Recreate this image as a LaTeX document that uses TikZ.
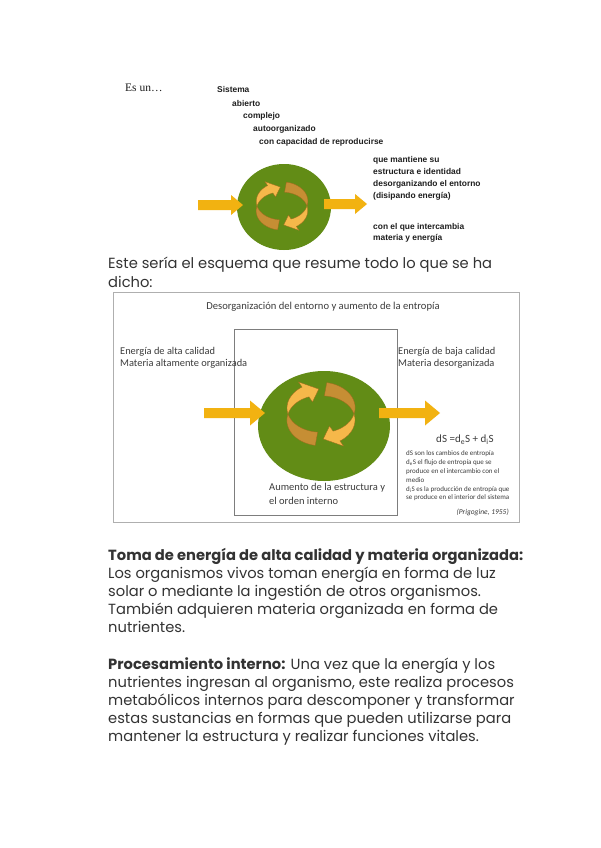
\documentclass[tikz,border=0pt]{standalone}
\usepackage{fontspec}
\setmainfont{Poppins}
\newfontfamily\slidefont{Liberation Sans}
\newfontfamily\slideserif{Liberation Serif}
\newfontfamily\calfont{Carlito}
\usetikzlibrary{shapes.geometric}
\definecolor{TextClr}{HTML}{333333}
\definecolor{SlideClr}{HTML}{1E1E1E}
\definecolor{CalClr}{HTML}{3C3C3C}
\definecolor{CellClr}{RGB}{98,140,22}
\definecolor{ArrowClr}{RGB}{242,178,17}
\definecolor{CycleLight}{RGB}{246,184,74}
\definecolor{CycleDark}{RGB}{198,142,52}
\definecolor{CycleEdge}{RGB}{160,105,30}
\definecolor{FrameClr}{RGB}{175,175,175}
\definecolor{BoxClr}{RGB}{125,125,125}

% x1, x2, y, shaft half width, head half width, head length
\newcommand{\BlockArrow}[6]{%
  \fill[ArrowClr] (#1,#3-#4) -- (#2-#6,#3-#4) -- (#2-#6,#3-#5) -- (#2,#3)
    -- (#2-#6,#3+#5) -- (#2-#6,#3+#4) -- (#1,#3+#4) -- cycle;}

% one twisted half of the cycle, unit circle
\newcommand{\HalfTwist}{%
  \filldraw[fill=CycleDark,draw=CycleEdge,line width=.3pt]
    plot[domain=180:262,samples=25] ({(1+0.27*sin(\x))*cos(\x)},{(1+0.27*sin(\x))*sin(\x)})
    -- plot[domain=262:180,samples=25] ({(1-0.27*sin(\x))*cos(\x)},{(1-0.27*sin(\x))*sin(\x)})
    -- cycle;
  \filldraw[fill=CycleLight,draw=CycleEdge,line width=.3pt]
    plot[domain=180:118,samples=25] ({(1-0.25*sin(\x))*cos(\x)},{(1-0.25*sin(\x))*sin(\x)})
    -- ({0.55*cos(118)},{0.55*sin(118)}) -- ({cos(94)},{sin(94)})
    -- ({1.45*cos(118)},{1.45*sin(118)})
    -- plot[domain=118:180,samples=25] ({(1+0.25*sin(\x))*cos(\x)},{(1+0.25*sin(\x))*sin(\x)})
    -- cycle;}

% cx, cy, rx, ry
\newcommand{\CycleArrows}[4]{%
  \begin{scope}[shift={(#1,#2)},xscale=#3,yscale=-#4]
    \HalfTwist
    \begin{scope}[rotate=180]
      \HalfTwist
    \end{scope}
  \end{scope}}

\tikzset{
  listtxt/.style={anchor=west,inner sep=0pt,text=SlideClr,align=left,
    font=\slidefont\bfseries\fontsize{8.4}{12}\selectfont},
  caltxt/.style={inner sep=0pt,text=CalClr,align=left,
    font=\calfont\fontsize{10.4}{12}\selectfont},
  bodytxt/.style={anchor=base west,inner sep=0pt,text=TextClr,align=left,
    font=\fontsize{14.7}{18.1}\selectfont},
  cell/.style={ellipse,fill=CellClr,inner sep=0pt}
}

\begin{document}
\begin{tikzpicture}[x=1pt,y=-1pt]
\useasboundingbox[fill=white] (0,0) rectangle (600,848);

% first slide
\node[anchor=west,inner sep=0pt,text=SlideClr,font=\slideserif\fontsize{11.5}{13}\selectfont] (esun) at (125,88) {Es un\ldots};
\node[listtxt] (sistema) at (217,89) {Sistema};
\node[listtxt] (abierto) at (232,103) {abierto};
\node[listtxt] (complejo) at (243,116) {complejo};
\node[listtxt] (autoorg) at (253,129) {autoorganizado};
\node[listtxt] (reprod) at (259,142) {con capacidad de reproducirse};

\node[cell,minimum width=94pt,minimum height=86pt] (cellA) at (284,207) {};
\BlockArrow{198}{243}{205}{5}{10}{12}
\BlockArrow{324}{367}{204}{5}{10}{12}
\CycleArrows{282}{206}{25}{19}

\node[listtxt] (mantiene) at (373,178) {que mantiene su\\estructura e identidad\\desorganizando el entorno\\(disipando energía)};
\node[listtxt,font=\slidefont\bfseries\fontsize{8.4}{10.5}\selectfont] (intercambia) at (373,233) {con el que intercambia\\materia y energía};

% last line baselines
\node[bodytxt] (esquema) at (108,287) {Este sería el esquema que resume todo lo que se ha\\dicho:};

% second slide
\draw[FrameClr,line width=.8pt] (113,292) rectangle (519,522);
\draw[BoxClr,line width=.6pt] (234,329) rectangle (397,515);
\node[caltxt,font=\calfont\fontsize{10.6}{12}\selectfont] (titulo) at (323,307) {Desorganización del entorno y aumento de la entropía};
\node[caltxt,anchor=west] (alta) at (120,358) {Energía de alta calidad\\Materia altamente organizada};
\node[caltxt,anchor=west] (baja) at (398,358) {Energía de baja calidad\\Materia desorganizada};

\node[cell,minimum width=132pt,minimum height=110pt] (cellB) at (324,426) {};
\BlockArrow{204}{265}{413}{5}{12.5}{15}
\BlockArrow{379}{440}{413}{5}{12.5}{15}
\CycleArrows{321}{414}{33}{25}

\node[caltxt,anchor=west,font=\calfont\fontsize{10.5}{14}\selectfont] (aumento) at (269,494) {Aumento de la estructura y\\el orden interno};
\node[caltxt,font=\calfont\fontsize{11}{13}\selectfont] (formula) at (465,440) {dS =d\textsubscript{e}S + d\textsubscript{i}S};
\node[caltxt,anchor=west,font=\calfont\fontsize{7}{8.8}\selectfont] (nota) at (406,476) {dS son los cambios de entropía\\d\textsubscript{e}S el flujo de entropía que se\\produce en el intercambio con el\\medio\\d\textsubscript{i}S es la producción de entropía que\\se produce en el interior del sistema};
\node[caltxt,anchor=east,font=\calfont\itshape\fontsize{7.5}{9}\selectfont] (autor) at (509,512) {(Prigogine, 1955)};

% body text
\node[bodytxt] (toma) at (108,632.4) {\textbf{Toma de energía de alta calidad y materia organizada:}\\Los organismos vivos toman energía en forma de luz\\solar o mediante la ingestión de otros organismos.\\También adquieren materia organizada en forma de\\nutrientes.};
\node[bodytxt] (proceso) at (108,741.4) {\textbf{Procesamiento interno:} Una vez que la energía y los\\nutrientes ingresan al organismo, este realiza procesos\\metabólicos internos para descomponer y transformar\\estas sustancias en formas que pueden utilizarse para\\mantener la estructura y realizar funciones vitales.};

\end{tikzpicture}
\end{document}
